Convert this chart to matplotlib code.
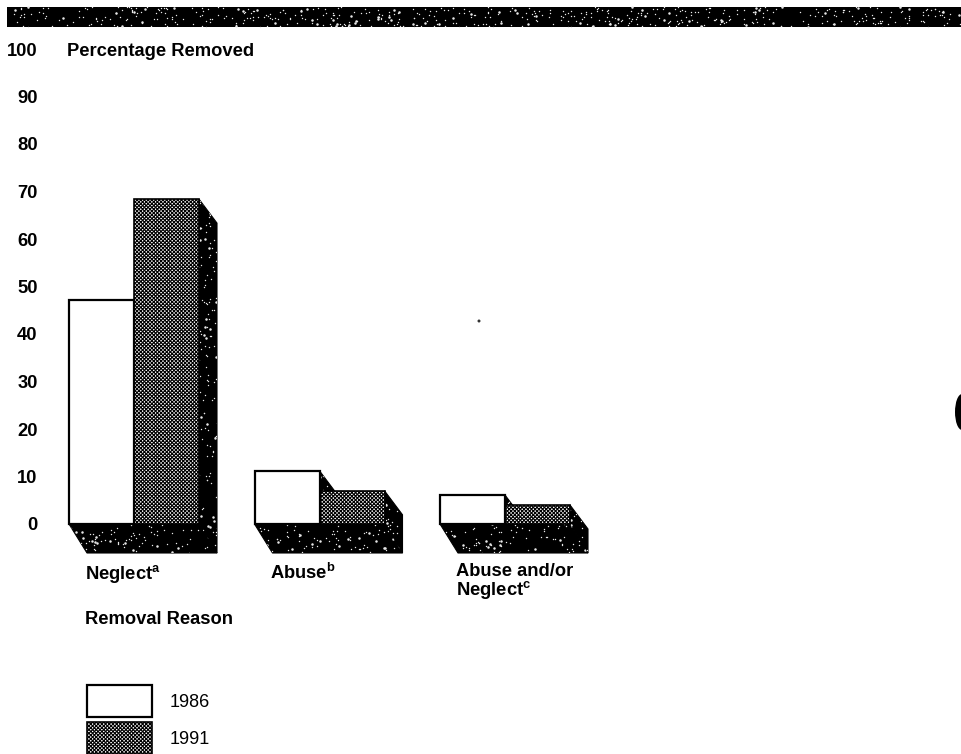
import numpy as np
import matplotlib
matplotlib.use("Agg")
import matplotlib.pyplot as plt
from matplotlib.lines import Line2D
from matplotlib.patches import Ellipse, Patch, Polygon, Rectangle

plt.rcParams["font.family"] = ["Liberation Sans", "DejaVu Sans"]
plt.rcParams["mathtext.fontset"] = "custom"
plt.rcParams["mathtext.bf"] = "Liberation Sans:bold"
plt.rcParams["hatch.linewidth"] = 0.8

reasons = ["Neglect$^{\\mathbf{a}}$", "Abuse$^{\\mathbf{b}}$", "Abuse and/or\nNeglect$^{\\mathbf{c}}$"]
years = ["1986", "1991"]
pct_1986 = [47.2, 11.2, 6.1]
pct_1991 = [68.4, 7.0, 4.0]
y_ticks = [0, 10, 20, 30, 40, 50, 60, 70, 80, 90, 100]

W, H = 961, 754
PX_Y = 4.75     # pixels per percentage point
PX_X = 185.5    # pixels between groups
X0 = 134        # pixel column of the first group centre
Y0 = 524        # pixel row of the zero line
AX_LEFT, AX_BOTTOM = 40, 556
LABEL_SIZE = 13.2

BAR_W = 65 / PX_X
DX = 18 / PX_X
DY_TOP = 24 / PX_Y
DY_FLOOR = 29 / PX_Y

FILL_KW = dict(facecolor="white", edgecolor="black", hatch="xxxxxxxxx", linewidth=0)


def specks(x0, x1, y0, y1, n, size, start, transform):
    """Pale ink flecks, placed by a sine hash so they come out uneven but repeatable."""
    i = np.arange(start, start + n)
    xs = x0 + (x1 - x0) * np.mod(np.sin(i * 12.9898) * 43758.5453, 1.0)
    ys = y0 + (y1 - y0) * np.mod(np.sin(i * 78.233) * 43758.5453, 1.0)
    return Line2D(xs, ys, linestyle="none", marker="o", markersize=size, markeredgewidth=0,
                  color="#e8e8e8", transform=transform)


def black_face(ax, pts, start):
    """One black face of the block, flecked with white."""
    poly = Polygon(pts, closed=True, facecolor="black", edgecolor="black", linewidth=0.8, zorder=1)
    ax.add_patch(poly)
    xs, ys = zip(*pts)
    area_px = (max(xs) - min(xs)) * PX_X * (max(ys) - min(ys)) * PX_Y
    for size, share in ((1.0, 1 / 60), (1.8, 1 / 300)):
        n = max(2, int(area_px * share))
        speck = specks(min(xs), max(xs), min(ys), max(ys), n, size, start, ax.transData)
        speck.set_zorder(1.1)
        ax.add_line(speck)
        speck.set_clip_path(poly)
        start += n


def draw_depth(ax, x, v1, v2, start):
    """Black floor and side walls behind one pair of bars."""
    left, mid, right = x - BAR_W, x, x + BAR_W
    floor = [(left, 0), (right, 0), (right + DX, -DY_FLOOR), (left + DX, -DY_FLOOR)]
    side = [(right, v2), (right + DX, v2 - DY_TOP), (right + DX, -DY_FLOOR), (right, 0)]
    step = [(mid, v1), (mid + DX, v1 - DY_TOP), (mid + DX, 0), (mid, 0)]
    black_face(ax, floor, start)
    black_face(ax, side, start + 700)
    black_face(ax, step, start + 1400)


def main():
    fig = plt.figure(figsize=(W / 100, H / 100), dpi=100, facecolor="white")
    ax = fig.add_axes([AX_LEFT / W, (H - AX_BOTTOM) / H, 1 - AX_LEFT / W, AX_BOTTOM / H])
    ax.patch.set_alpha(0)
    ax.set_xlim((AX_LEFT - X0) / PX_X, (W - X0) / PX_X)
    ax.set_ylim((Y0 - AX_BOTTOM) / PX_Y, Y0 / PX_Y)
    for spine in ax.spines.values():
        spine.set_visible(False)

    x = np.arange(len(reasons), dtype=float)
    for k, (xi, v1, v2) in enumerate(zip(x, pct_1986, pct_1991)):
        draw_depth(ax, xi, v1, v2, 1 + 2500 * k)

    ax.bar(x - BAR_W / 2, pct_1986, BAR_W, color="white", edgecolor="black", linewidth=1.6, zorder=3)
    ax.bar(x + BAR_W / 2, pct_1991, BAR_W, zorder=2, **FILL_KW)
    ax.bar(x + BAR_W / 2, pct_1991, BAR_W, color="none", edgecolor="black", linewidth=1.2, zorder=2.5)

    ax.set_yticks(y_ticks)
    ax.set_yticklabels([str(t) for t in y_ticks], fontweight="bold", fontsize=LABEL_SIZE)
    ax.tick_params(axis="y", length=0, pad=1.8)

    # category labels hang from the left end of each floor
    ax.set_xticks(x - 49 / PX_X)
    ax.set_xticklabels(reasons, fontweight="bold", fontsize=LABEL_SIZE, ha="left", va="top", linespacing=0.9)
    ax.tick_params(axis="x", length=0, pad=5.2)

    ax.set_ylabel("Percentage Removed", fontweight="bold", fontsize=LABEL_SIZE, rotation=0, ha="left", va="center")
    ax.yaxis.set_label_coords((67 - AX_LEFT) / (W - AX_LEFT), 1 - 51 / AX_BOTTOM)
    ax.set_xlabel("Removal Reason", fontweight="bold", fontsize=LABEL_SIZE, ha="left", va="center")
    ax.xaxis.set_label_coords((85 - AX_LEFT) / (W - AX_LEFT), -(620 - AX_BOTTOM) / AX_BOTTOM)

    # banner across the top of the page
    fig.add_artist(Rectangle((7 / W, 1 - 27 / H), 1, 20 / H, transform=fig.transFigure,
                             facecolor="black", edgecolor="none"))
    fig.add_artist(specks(7 / W, 1, 1 - 27 / H, 1 - 7 / H, 480, 1.0, 9000, fig.transFigure))
    fig.add_artist(specks(7 / W, 1, 1 - 27 / H, 1 - 7 / H, 70, 1.8, 9500, fig.transFigure))

    # punch hole on the page edge and a stray ink dot
    fig.add_artist(Ellipse((962 / W, 1 - 412 / H), 14 / W, 36 / H, transform=fig.transFigure,
                           facecolor="black", edgecolor="none"))
    fig.add_artist(Ellipse((479 / W, 1 - 321 / H), 3 / W, 3 / H, transform=fig.transFigure,
                           facecolor="#333333", edgecolor="none"))

    handles = [
        Patch(facecolor="white", edgecolor="black", linewidth=1.6),
        Patch(facecolor="white", edgecolor="black", hatch="xxxxxxxxx", linewidth=1.2),
    ]
    ax.legend(handles, years, loc="lower left",
              bbox_to_anchor=(87 / W, 0), bbox_transform=fig.transFigure,
              frameon=False, fontsize=13, borderpad=0, borderaxespad=0,
              handlelength=3.6, handleheight=2.345, labelspacing=0.28, handletextpad=0.95)

    fig.savefig("out.png", dpi=100, facecolor="white")


if __name__ == "__main__":
    main()
